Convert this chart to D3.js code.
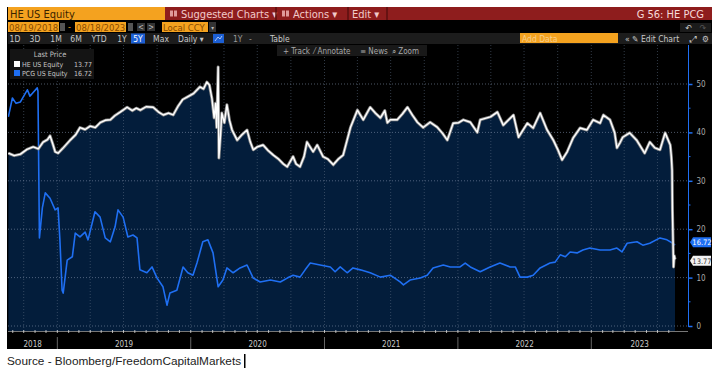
<!DOCTYPE html>
<html>
<head>
<meta charset="utf-8">
<script src="https://cdn.jsdelivr.net/npm/d3@7"></script>
<style>
    body { margin: 0; background: #fff; }
    svg { display: block; font-family: 'Liberation Sans Narrow', 'DejaVu Sans Condensed', 'Liberation Sans', sans-serif; }
</style>
</head>
<body>
<svg id="chart" width="720" height="376"></svg>
<script>
// HE US Equity - last price
const heSeries = [
    ['2018-08-20', 35.7], ['2018-09-05', 35.2], ['2018-09-22', 35.5], ['2018-10-10', 36.5],
    ['2018-10-27', 37.0], ['2018-11-10', 36.6], ['2018-11-23', 38.0], ['2018-12-05', 38.5],
    ['2018-12-12', 39.3], ['2018-12-20', 37.5], ['2018-12-26', 36.0], ['2019-01-03', 35.7],
    ['2019-01-17', 36.8], ['2019-02-05', 38.4], ['2019-02-20', 39.5], ['2019-03-04', 41.0],
    ['2019-03-18', 40.6], ['2019-04-01', 41.3], ['2019-04-15', 41.0], ['2019-04-28', 42.0],
    ['2019-05-12', 42.5], ['2019-05-26', 42.6], ['2019-06-08', 43.5], ['2019-06-22', 44.2],
    ['2019-07-11', 45.2], ['2019-07-25', 44.5], ['2019-08-05', 45.0], ['2019-08-16', 44.6],
    ['2019-09-01', 45.3], ['2019-09-20', 45.2], ['2019-10-05', 44.2], ['2019-10-18', 43.6],
    ['2019-11-01', 44.0], ['2019-11-14', 43.6], ['2019-11-28', 45.5], ['2019-12-10', 46.8],
    ['2019-12-22', 47.3], ['2020-01-08', 48.0], ['2020-01-26', 49.4], ['2020-02-05', 49.0],
    ['2020-02-14', 50.4], ['2020-02-21', 49.8], ['2020-02-28', 47.0], ['2020-03-05', 43.0],
    ['2020-03-09', 46.0], ['2020-03-12', 41.0], ['2020-03-16', 53.5], ['2020-03-18', 34.7],
    ['2020-03-23', 40.0], ['2020-03-26', 44.0], ['2020-04-02', 42.0], ['2020-04-09', 45.7],
    ['2020-04-16', 42.5], ['2020-04-23', 40.5], ['2020-05-07', 38.4], ['2020-05-20', 39.5],
    ['2020-06-03', 40.5], ['2020-06-12', 38.0], ['2020-06-20', 36.4], ['2020-07-01', 37.0],
    ['2020-07-17', 37.4], ['2020-07-30', 36.3], ['2020-08-14', 35.3], ['2020-08-28', 34.5],
    ['2020-09-10', 33.5], ['2020-09-21', 32.9], ['2020-10-07', 35.0], ['2020-10-15', 33.5],
    ['2020-10-26', 32.9], ['2020-11-06', 35.0], ['2020-11-14', 38.0], ['2020-12-01', 36.0],
    ['2020-12-12', 37.4], ['2020-12-28', 35.0], ['2021-01-10', 34.5], ['2021-01-25', 33.3],
    ['2021-02-08', 34.5], ['2021-02-21', 35.3], ['2021-03-13', 41.0], ['2021-04-01', 44.6],
    ['2021-04-17', 42.6], ['2021-05-06', 45.2], ['2021-05-20', 44.0], ['2021-06-03', 43.0],
    ['2021-06-15', 44.5], ['2021-06-22', 42.0], ['2021-06-30', 42.6], ['2021-07-19', 42.6],
    ['2021-08-02', 43.8], ['2021-08-16', 45.2], ['2021-08-30', 43.5], ['2021-09-12', 42.1],
    ['2021-09-28', 41.0], ['2021-10-17', 42.1], ['2021-11-05', 41.1], ['2021-11-20', 39.8],
    ['2021-12-03', 38.4], ['2021-12-19', 41.9], ['2022-01-03', 42.0], ['2022-01-16', 42.6],
    ['2022-02-04', 42.1], ['2022-02-23', 40.0], ['2022-03-03', 42.6], ['2022-03-31', 43.2],
    ['2022-04-19', 44.2], ['2022-05-05', 41.5], ['2022-06-02', 43.6], ['2022-06-16', 39.0],
    ['2022-07-10', 41.9], ['2022-07-26', 40.9], ['2022-08-14', 44.0], ['2022-09-02', 40.5],
    ['2022-09-19', 38.4], ['2022-10-01', 36.5], ['2022-10-13', 34.3], ['2022-10-27', 36.0],
    ['2022-11-12', 38.8], ['2022-12-01', 40.9], ['2022-12-20', 40.5], ['2023-01-06', 42.6],
    ['2023-01-25', 41.9], ['2023-02-03', 43.6], ['2023-02-21', 42.6], ['2023-03-06', 39.9],
    ['2023-03-12', 36.8], ['2023-03-20', 37.8], ['2023-03-28', 39.0], ['2023-04-16', 39.9],
    ['2023-05-05', 38.4], ['2023-05-27', 35.7], ['2023-06-10', 38.0], ['2023-06-24', 36.8],
    ['2023-07-08', 36.4], ['2023-07-22', 39.9], ['2023-08-05', 37.4], ['2023-08-08', 35.0],
    ['2023-08-10', 32.2], ['2023-08-11', 24.0], ['2023-08-14', 12.2], ['2023-08-16', 14.5],
    ['2023-08-18', 13.77]
];

// PCG US Equity - last price
const pcgSeries = [
    ['2018-08-20', 43.2], ['2018-08-31', 47.1], ['2018-09-10', 46.0], ['2018-09-22', 46.3],
    ['2018-10-01', 47.5], ['2018-10-11', 48.8], ['2018-10-18', 47.5], ['2018-10-25', 48.1],
    ['2018-11-07', 49.2], ['2018-11-09', 48.5], ['2018-11-13', 18.2], ['2018-11-21', 24.4],
    ['2018-11-29', 27.5], ['2018-12-12', 26.4], ['2018-12-26', 24.0], ['2019-01-03', 24.4],
    ['2019-01-08', 17.8], ['2019-01-14', 7.4], ['2019-01-17', 6.8], ['2019-01-28', 13.6],
    ['2019-02-11', 14.3], ['2019-02-19', 19.2], ['2019-03-04', 18.4], ['2019-03-18', 19.4],
    ['2019-03-26', 17.8], ['2019-04-14', 23.6], ['2019-04-28', 22.5], ['2019-05-12', 18.2],
    ['2019-05-26', 17.4], ['2019-06-08', 20.5], ['2019-06-16', 24.0], ['2019-06-30', 22.5],
    ['2019-07-13', 18.4], ['2019-07-27', 18.8], ['2019-08-07', 18.2], ['2019-08-15', 11.6],
    ['2019-09-03', 11.0], ['2019-09-17', 12.2], ['2019-10-01', 9.9], ['2019-10-17', 8.1],
    ['2019-10-28', 4.3], ['2019-11-05', 6.8], ['2019-11-24', 7.4], ['2019-12-11', 12.2],
    ['2019-12-24', 11.0], ['2020-01-07', 10.5], ['2020-01-18', 13.0], ['2020-02-03', 17.4],
    ['2020-02-17', 17.8], ['2020-03-02', 15.1], ['2020-03-16', 8.1], ['2020-03-29', 9.5],
    ['2020-04-09', 12.0], ['2020-04-26', 11.0], ['2020-05-15', 12.0], ['2020-06-03', 12.6],
    ['2020-06-20', 9.9], ['2020-07-09', 9.1], ['2020-08-06', 9.5], ['2020-09-02', 9.1],
    ['2020-09-21', 9.9], ['2020-10-07', 10.5], ['2020-10-26', 10.1], ['2020-11-09', 11.6],
    ['2020-11-23', 13.0], ['2020-12-20', 12.6], ['2021-01-17', 12.2], ['2021-01-30', 11.2],
    ['2021-02-13', 12.2], ['2021-03-04', 11.0], ['2021-03-20', 12.0], ['2021-04-09', 11.6],
    ['2021-05-06', 11.0], ['2021-06-03', 10.1], ['2021-06-30', 10.5], ['2021-07-27', 9.1],
    ['2021-08-05', 8.5], ['2021-08-23', 9.5], ['2021-09-20', 9.9], ['2021-10-09', 10.5],
    ['2021-10-25', 12.0], ['2021-11-22', 12.6], ['2021-12-11', 12.2], ['2022-01-07', 12.2],
    ['2022-01-21', 13.0], ['2022-02-04', 12.2], ['2022-03-03', 11.2], ['2022-03-30', 12.2],
    ['2022-04-26', 13.0], ['2022-05-24', 12.2], ['2022-06-07', 12.2], ['2022-06-20', 10.1],
    ['2022-07-10', 10.1], ['2022-07-26', 10.5], ['2022-08-14', 12.0], ['2022-09-10', 13.0],
    ['2022-09-24', 13.2], ['2022-10-08', 14.7], ['2022-10-22', 14.3], ['2022-11-04', 15.3],
    ['2022-11-23', 15.1], ['2022-12-09', 15.7], ['2022-12-28', 16.1], ['2023-01-25', 15.7],
    ['2023-02-21', 15.7], ['2023-03-12', 16.1], ['2023-03-26', 15.3], ['2023-04-09', 17.1],
    ['2023-05-06', 17.4], ['2023-05-22', 16.7], ['2023-06-10', 17.1], ['2023-07-08', 18.2],
    ['2023-07-27', 17.8], ['2023-08-12', 17.1], ['2023-08-18', 16.72]
];

const yTicks = [0, 10, 20, 30, 40, 50];
const yMinorTicks = [5, 15, 25, 35, 45];
const yearLabels = ['2018', '2019', '2020', '2021', '2022', '2023'];
const legendItems = [
    { name: 'HE US Equity', last: '13.77', color: '#ffffff' },
    { name: 'PCG US Equity', last: '16.72', color: '#1f6ff2' }
];
const periodButtons = ['1D', '3D', '1M', '6M', 'YTD', '1Y', '5Y', 'Max'];
const toolbarItems = ['+ Track', '⁄ Annotate', '≡ News', '⌕ Zoom'];

const parse = d3.timeParse('%Y-%m-%d');
const he = heSeries.map(d => ({ date: parse(d[0]), v: d[1] }));
const pcg = pcgSeries.map(d => ({ date: parse(d[0]), v: d[1] }));

const svg = d3.select('#chart');
const ORANGE = '#f4a21f';
const RED = '#8e1d1d';
const NAVY = '#031d3b';
const BLUE = '#1f6ff2';

// Plot frame
const plot = { left: 8, right: 688, top: 45, bottom: 331 };

const x = d3.scaleTime()
    .domain([parse('2018-08-19'), parse('2023-08-18')])
    .range([8, 675]);
const y = d3.scaleLinear().domain([0, 50]).range([326, 84]);

// Terminal panel background
svg.append('rect').attr('x', 7).attr('y', 7).attr('width', 705).attr('height', 342).attr('fill', '#000');

// ---- header row 1
svg.append('rect').attr('x', 8).attr('y', 7).attr('width', 157).attr('height', 13).attr('fill', ORANGE);
svg.append('text').attr('x', 10).attr('y', 17.5).attr('font-size', 11).attr('fill', '#3a2400').text('HE US Equity');
svg.append('rect').attr('x', 165).attr('y', 7).attr('width', 547).attr('height', 13).attr('fill', RED);

const menu = [
    { label: 'Suggested Charts ▾', x: 170, sep: 276 },
    { label: 'Actions ▾', x: 282, sep: 348 },
    { label: 'Edit ▾', x: 352, sep: 387 }
];
menu.forEach(m => {
    if (m.label !== 'Edit ▾') {
        svg.append('rect').attr('x', m.x).attr('y', 10.5).attr('width', 3).attr('height', 6).attr('fill', '#e09a9a');
        svg.append('rect').attr('x', m.x + 4).attr('y', 10.5).attr('width', 3).attr('height', 6).attr('fill', '#e09a9a');
    }
    svg.append('text').attr('x', m.label === 'Edit ▾' ? m.x : m.x + 11).attr('y', 17.5)
        .attr('font-size', 11).attr('fill', '#f2caca').text(m.label);
    svg.append('line').attr('x1', m.sep).attr('x2', m.sep).attr('y1', 7).attr('y2', 20)
        .attr('stroke', '#5a0f0f').attr('stroke-width', 1.5);
});
svg.append('text').attr('x', 704).attr('y', 17.5).attr('text-anchor', 'end')
    .attr('font-size', 11).attr('fill', '#f6dada').text('G 56: HE PCG');

// ---- header row 2
function orangeBox(x0, w, label) {
    svg.append('rect').attr('x', x0).attr('y', 22).attr('width', w).attr('height', 10).attr('fill', ORANGE);
    svg.append('text').attr('x', x0 + 1).attr('y', 30.5).attr('font-size', 9.5).attr('fill', '#8a4c00').text(label);
}
orangeBox(8, 51, '08/19/2018');
svg.append('rect').attr('x', 60).attr('y', 23).attr('width', 5).attr('height', 8).attr('fill', '#555');
svg.append('text').attr('x', 68).attr('y', 30).attr('font-size', 9).attr('fill', ORANGE).text('-');
orangeBox(75, 51, '08/18/2023');
svg.append('rect').attr('x', 128).attr('y', 23).attr('width', 5).attr('height', 8).attr('fill', '#555');
[['<', 137], ['>', 147]].forEach(([c, bx]) => {
    svg.append('rect').attr('x', bx).attr('y', 23).attr('width', 8).attr('height', 8).attr('fill', '#333');
    svg.append('text').attr('x', bx + 4).attr('y', 30).attr('text-anchor', 'middle').attr('font-size', 8).attr('fill', '#bbb').text(c);
});
orangeBox(162, 46, 'Local CCY');
svg.append('rect').attr('x', 209).attr('y', 22).attr('width', 7).attr('height', 10).attr('fill', '#333');
svg.append('text').attr('x', 212.5).attr('y', 29.5).attr('text-anchor', 'middle').attr('font-size', 6).attr('fill', '#bbb').text('▾');
svg.append('rect').attr('x', 680).attr('y', 23).attr('width', 31).attr('height', 9).attr('fill', '#1b1b1b');
svg.append('text').attr('x', 689).attr('y', 30.5).attr('text-anchor', 'middle').attr('font-size', 9).attr('fill', '#ccc').text('↶');
svg.append('text').attr('x', 703).attr('y', 30.5).attr('text-anchor', 'middle').attr('font-size', 9).attr('fill', '#555').text('↷');

// ---- header row 3 (period buttons)
svg.append('rect').attr('x', 8).attr('y', 33).attr('width', 704).attr('height', 11).attr('fill', '#1c1c1c');
const btnX = [15, 35, 56, 76, 99, 122, 138, 161];
periodButtons.forEach((b, i) => {
    if (b === '5Y') {
        svg.append('rect').attr('x', 131).attr('y', 33.5).attr('width', 14).attr('height', 10).attr('fill', '#1c5fd4');
    }
    svg.append('text').attr('x', btnX[i]).attr('y', 41.5).attr('text-anchor', 'middle')
        .attr('font-size', 8.5).attr('fill', b === '5Y' ? '#fff' : '#c8c8c8').text(b);
});
svg.append('text').attr('x', 178).attr('y', 41.5).attr('font-size', 8.5).attr('fill', '#c8c8c8').text('Daily ▾');
svg.append('rect').attr('x', 213).attr('y', 34).attr('width', 11).attr('height', 9).attr('fill', '#1c5fd4');
svg.append('path').attr('d', 'M215,41 L218,37 L220,39 L222,36').attr('fill', 'none').attr('stroke', '#cfe0ff').attr('stroke-width', 0.8);
svg.append('text').attr('x', 233).attr('y', 41.5).attr('font-size', 8.5).attr('fill', '#999').text('1Y');
svg.append('text').attr('x', 249).attr('y', 41.5).attr('font-size', 8.5).attr('fill', '#999').text('-');
svg.append('text').attr('x', 270).attr('y', 41.5).attr('font-size', 8.5).attr('fill', '#c8c8c8').text('Table');
svg.append('rect').attr('x', 520).attr('y', 33).attr('width', 98).attr('height', 10).attr('fill', ORANGE);
svg.append('text').attr('x', 522).attr('y', 41.5).attr('font-size', 8.5).attr('fill', '#f8cf8a').text('Add Data');
svg.append('text').attr('x', 625).attr('y', 41.5).attr('font-size', 8.5).attr('fill', '#c8c8c8').text('«  ✎ Edit Chart');
svg.append('text').attr('x', 690).attr('y', 41.5).attr('font-size', 8.5).attr('fill', '#c8c8c8').text('⤢');
svg.append('text').attr('x', 702).attr('y', 41.5).attr('font-size', 8.5).attr('fill', '#c8c8c8').text('⚙');

// ---- plot area
svg.append('clipPath').attr('id', 'plot-clip')
    .append('rect').attr('x', plot.left).attr('y', plot.top)
    .attr('width', plot.right - plot.left).attr('height', plot.bottom - plot.top);

const g = svg.append('g').attr('clip-path', 'url(#plot-clip)');

// navy fill under HE
const area = d3.area()
    .x(d => x(d.date))
    .y0(plot.bottom)
    .y1(d => y(d.v));
g.append('path').datum(he).attr('d', area).attr('fill', NAVY);

// dotted grid
const quarters = d3.timeMonths(parse('2018-10-01'), parse('2023-08-18'), 3);
g.selectAll('.vgrid').data(quarters).enter().append('line')
    .attr('x1', d => x(d)).attr('x2', d => x(d))
    .attr('y1', plot.top).attr('y2', plot.bottom)
    .attr('stroke', '#5a6a80').attr('stroke-opacity', 0.55)
    .attr('stroke-dasharray', '1,2');
g.selectAll('.hgrid').data(yTicks).enter().append('line')
    .attr('x1', plot.left).attr('x2', plot.right)
    .attr('y1', d => y(d)).attr('y2', d => y(d))
    .attr('stroke', '#8090a8').attr('stroke-opacity', 0.6)
    .attr('stroke-dasharray', '1,2');

// series lines
const line = d3.line().x(d => x(d.date)).y(d => y(d.v));
g.append('path').datum(pcg).attr('d', line)
    .attr('fill', 'none').attr('stroke', BLUE).attr('stroke-width', 1.6).attr('stroke-linejoin', 'round');
g.append('path').datum(he).attr('d', line)
    .attr('fill', 'none').attr('stroke', '#8a8a8a').attr('stroke-width', 3).attr('stroke-linejoin', 'round');
g.append('path').datum(he).attr('d', line)
    .attr('fill', 'none').attr('stroke', '#ffffff').attr('stroke-width', 1.4).attr('stroke-linejoin', 'round');

// bottom time axis
svg.append('line').attr('x1', plot.left).attr('x2', plot.right)
    .attr('y1', plot.bottom + 0.5).attr('y2', plot.bottom + 0.5).attr('stroke', '#777');
const months = d3.timeMonths(parse('2018-09-01'), parse('2023-08-18'));
svg.selectAll('.mtick').data(months).enter().append('line')
    .attr('x1', d => x(d)).attr('x2', d => x(d))
    .attr('y1', plot.bottom - 1).attr('y2', plot.bottom + 2)
    .attr('stroke', '#ddd').attr('stroke-width', 0.8);

const yearStarts = yearLabels.map(t => parse(t + '-01-01'));
svg.selectAll('.ysep').data(yearStarts.slice(1)).enter().append('line')
    .attr('x1', d => x(d)).attr('x2', d => x(d))
    .attr('y1', 337).attr('y2', 349)
    .attr('stroke', '#666');
svg.selectAll('.ylabel').data(yearLabels).enter().append('text')
    .attr('x', (d, i) => {
        const a = Math.max(x(yearStarts[i]), plot.left);
        const b = i < yearLabels.length - 1 ? x(yearStarts[i + 1]) : plot.right;
        return (a + b) / 2;
    })
    .attr('y', 347).attr('text-anchor', 'middle')
    .attr('font-size', 8).attr('fill', '#c8c8c8').text(d => d);

// right value axis
svg.append('line').attr('x1', plot.right + 0.5).attr('x2', plot.right + 0.5)
    .attr('y1', plot.top).attr('y2', y(0) + 1).attr('stroke', BLUE).attr('stroke-width', 1);
const yAxis = d3.axisRight(y).tickValues(yTicks).tickSize(4).tickPadding(4);
const ya = svg.append('g').attr('transform', `translate(${plot.right + 0.5},0)`).call(yAxis);
ya.select('.domain').remove();
ya.selectAll('line').attr('stroke', BLUE).attr('stroke-width', 1.5);
ya.selectAll('text').attr('fill', '#aaa').attr('font-size', 8)
    .attr('font-family', "'Liberation Sans Narrow','DejaVu Sans Condensed',sans-serif");
svg.selectAll('.minor').data(yMinorTicks).enter().append('line')
    .attr('x1', plot.right).attr('x2', plot.right + 2.5)
    .attr('y1', d => y(d)).attr('y2', d => y(d))
    .attr('stroke', BLUE).attr('stroke-width', 1);

// last value tags
function tag(v, fill, txt, textColor) {
    const ty = y(v);
    svg.append('path')
        .attr('d', `M690,${ty} L693,${ty - 5} L711,${ty - 5} L711,${ty + 5} L693,${ty + 5} Z`)
        .attr('fill', fill);
    svg.append('text').attr('x', 702).attr('y', ty + 3).attr('text-anchor', 'middle')
        .attr('font-size', 7.5).attr('fill', textColor).text(txt);
}
tag(pcg[pcg.length - 1].v + 0.6, BLUE, '16.72', '#fff');
tag(he[he.length - 1].v - 0.3, '#f2f2f2', '13.77', '#333');

// chart toolbar
svg.append('rect').attr('x', 277).attr('y', 45).attr('width', 150).attr('height', 11).attr('fill', '#191919');
const toolX = [283, 314, 360, 392];
toolbarItems.forEach((t, i) => {
    svg.append('text').attr('x', toolX[i]).attr('y', 53.5).attr('font-size', 8).attr('fill', '#a8a8a8').text(t);
});

// legend
svg.append('rect').attr('x', 10).attr('y', 49).attr('width', 84).attr('height', 30).attr('fill', '#141414');
svg.append('text').attr('x', 50).attr('y', 57).attr('text-anchor', 'middle')
    .attr('font-size', 7.5).attr('fill', '#c0c0c0').text('Last Price');
legendItems.forEach((d, i) => {
    const ly = 61 + i * 9;
    svg.append('rect').attr('x', 14).attr('y', ly).attr('width', 6).attr('height', 6).attr('fill', d.color);
    svg.append('text').attr('x', 22).attr('y', ly + 6).attr('font-size', 7).attr('fill', '#c8c8c8').text(d.name);
    svg.append('text').attr('x', 92).attr('y', ly + 6).attr('text-anchor', 'end')
        .attr('font-size', 7).attr('fill', '#c8c8c8').text(d.last);
});

// source line below the screenshot
svg.append('text').attr('x', 7).attr('y', 365)
    .attr('font-family', "'Liberation Sans', Arial, sans-serif")
    .attr('font-size', 11.8).attr('fill', '#222')
    .text('Source - Bloomberg/FreedomCapitalMarkets');
svg.append('rect').attr('x', 244).attr('y', 354).attr('width', 1.5).attr('height', 14).attr('fill', '#000');
</script>
</body>
</html>
